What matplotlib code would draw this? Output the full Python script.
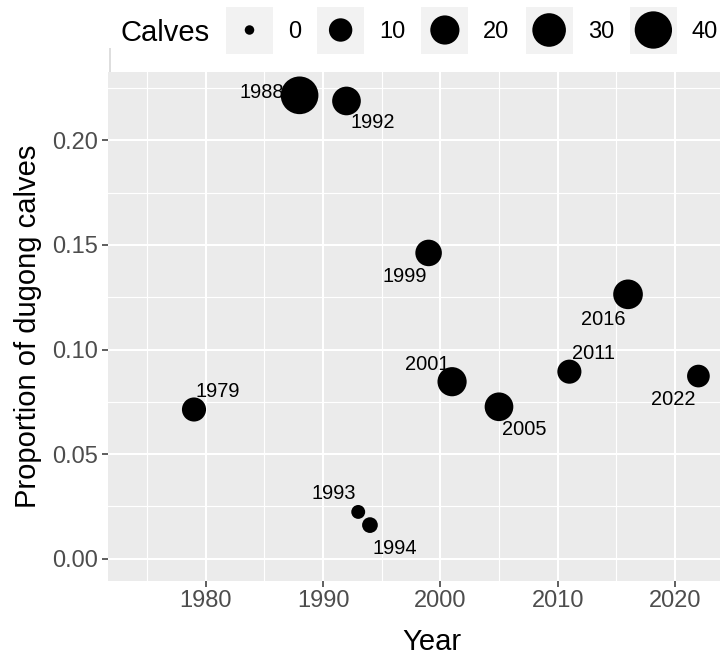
import numpy as np
import matplotlib
matplotlib.use('Agg')
import matplotlib.pyplot as plt
from matplotlib.patches import Rectangle
from matplotlib.ticker import MultipleLocator, FormatStrFormatter

plt.rcParams['font.family'] = ['Liberation Sans', 'DejaVu Sans']

# survey data
years = [1979, 1988, 1992, 1993, 1994, 1999, 2001, 2005, 2011, 2016, 2022]
proportions = [0.0713, 0.2216, 0.2189, 0.0223, 0.0160, 0.1462,
               0.0846, 0.0726, 0.0894, 0.1264, 0.0873]
calves = [11, 41, 19, 1, 2, 15, 20, 19, 11, 21, 9]
legend_breaks = [0, 10, 20, 30, 40]

# where each year label sits relative to its point (pixels, like ggrepel did)
label_offsets = {
    1979: (24, 20), 1988: (-38, 5), 1992: (26, -20), 1993: (-24, 20),
    1994: (25, -21), 1999: (-24, -22), 2001: (-25, 19), 2005: (25, -21),
    2011: (24, 20), 2016: (-25, -23), 2022: (-25, -21),
}

DPI = 100
W, H = 720, 661


def marker_area(v):
    # area scale: diameter grows with sqrt of the count
    d = 9.5 + 4.4 * np.sqrt(np.asarray(v, dtype=float))
    return (d * 72 / DPI) ** 2


fig = plt.figure(figsize=(W / DPI, H / DPI), dpi=DPI)

# panel
left, top, bottom = 108, 71.7, 580.7
ax = fig.add_axes([left / W, 1 - bottom / H, 1 - left / W, (bottom - top) / H])
ax.set_facecolor('#EBEBEB')
for s in ax.spines.values():
    s.set_visible(False)

ax.set_xlim(1971.67, 2023.84)
ax.set_ylim(-0.0106, 0.2329)
ax.xaxis.set_major_locator(MultipleLocator(10))
ax.xaxis.set_minor_locator(MultipleLocator(5))
ax.yaxis.set_major_locator(MultipleLocator(0.05))
ax.yaxis.set_minor_locator(MultipleLocator(0.025))
ax.yaxis.set_major_formatter(FormatStrFormatter('%.2f'))
ax.set_axisbelow(True)
ax.grid(which='major', color='white', linewidth=1.5)
ax.grid(which='minor', color='white', linewidth=0.8)
ax.tick_params(which='minor', length=0)
ax.tick_params(which='major', length=4, width=1.1, color='#333333',
               labelcolor='#4D4D4D', labelsize=17, pad=3)

ax.scatter(years, proportions, s=marker_area(calves), c='black',
           edgecolors='none', zorder=3)

for yr, p in zip(years, proportions):
    dx, dy = label_offsets[yr]
    ax.annotate(str(yr), (yr, p), xytext=(dx, dy), textcoords='offset pixels',
                ha='center', va='center_baseline', fontsize=14.4, zorder=2)

ax.set_xlabel('Year', fontsize=21)
ax.set_ylabel('Proportion of dugong calves', fontsize=21)
ax.xaxis.label.set_va('center')
ax.yaxis.label.set_va('center')
ax.xaxis.set_label_coords((432 - left) / (W - left), -(642 - bottom) / (bottom - top))
ax.yaxis.set_label_coords(-(left - 28) / (W - left), 0.5)

# legend drawn by hand on top strip (pixel coordinates)
lax = fig.add_axes([0, 0, 1, 1], zorder=5)
lax.set_xlim(0, W)
lax.set_ylim(H, 0)
lax.axis('off')
lax.add_patch(Rectangle((108.5, 48), 2.5, 24, color='#DEDEDE', lw=0))

lax.text(120, 30, 'Calves', fontsize=21, ha='left', va='center_baseline')
renderer = fig.canvas.get_renderer()
key, cy = 47, 30
x = 226
for b in legend_breaks:
    lax.add_patch(Rectangle((x, cy - key / 2), key, key, color='#F2F2F2', lw=0))
    lax.scatter([x + key / 2], [cy], s=marker_area([b]), c='black', edgecolors='none')
    t = lax.text(x + key + 15, cy, str(b), fontsize=17, ha='left', va='center_baseline')
    wpx = t.get_window_extent(renderer).width
    x = x + key + 15 + wpx + 16

plt.savefig('out.png', dpi=DPI)
